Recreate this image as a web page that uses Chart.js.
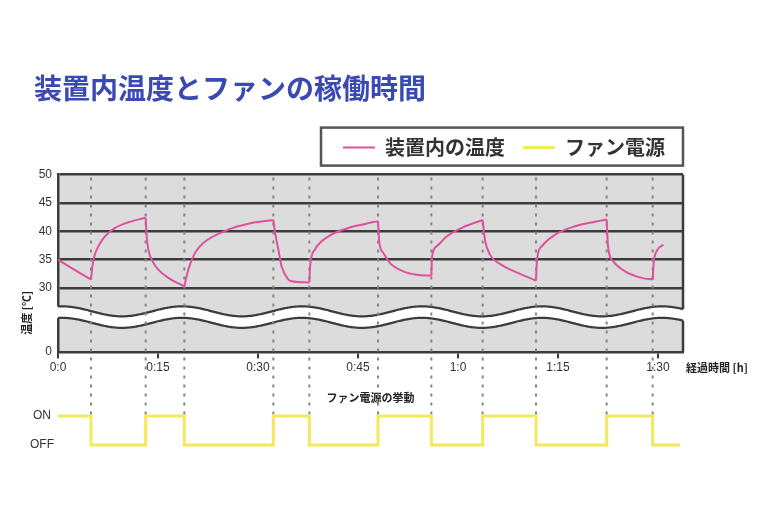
<!DOCTYPE html>
<html lang="ja">
<head>
<meta charset="utf-8">
<title>装置内温度とファンの稼働時間</title>
<script src="https://cdn.jsdelivr.net/npm/chart.js@4.4.1/dist/chart.umd.min.js"></script>
<style>
  html, body { margin: 0; padding: 0; background: #fff; }
</style>
</head>
<body>
<canvas id="ondoChart" width="768" height="524"></canvas>
<script>
// 経過時間 [分] と装置内の温度 [℃]
const tempMinutes = [0, 2.5, 4.95, 5.15, 5.45, 6.05, 7.05, 8.55, 10.55, 13.15,
  13.3, 13.55, 14.05, 15.05, 16.55, 18.95,
  19.55, 20.55, 21.8, 25.55, 28.55, 32.3,
  32.6, 33.05, 33.55, 34.55, 35.05, 37.7,
  37.85, 38.55, 40.55, 43.55, 46.05, 48,
  48.2, 48.8, 49.8, 51.8, 53.8, 56,
  56.1, 56.8, 58.3, 60.8, 63.7,
  64.05, 64.8, 66.55, 69.05, 71.7,
  71.85, 72.55, 74.55, 77.55, 80.55, 82.3,
  82.5, 83.3, 85.05, 87.55, 89.2,
  89.35, 89.8, 90.8];
const tempValues = [35.0, 33.2, 31.5, 33.8, 35.6, 37.35, 39.1, 40.6, 41.6, 42.4,
  39.1, 36.8, 35.0, 33.25, 31.8, 30.3,
  33.25, 36.2, 37.95, 40.3, 41.35, 42.0,
  39.5, 36.8, 33.8, 31.5, 31.2, 31.0,
  34.2, 36.8, 39.1, 40.6, 41.3, 41.8,
  38.0, 36.2, 34.4, 32.95, 32.35, 32.2,
  35.4, 37.35, 39.1, 40.75, 42.0,
  38.5, 35.9, 34.1, 32.65, 31.3,
  35.0, 37.35, 39.4, 40.9, 41.7, 42.1,
  37.4, 34.7, 32.95, 31.8, 31.5,
  34.4, 36.5, 37.65];

// ファン電源の切り替わり時刻 [分] と状態 (1 = ON, 0 = OFF)
const fanMinutes = [0, 4.95, 13.15, 18.95, 32.3, 37.7, 48, 56, 63.7, 71.7, 82.3, 89.2, 93.3];
const fanState = [1, 0, 1, 0, 1, 0, 1, 0, 1, 0, 1, 0, 0];

const xTickValues = [0, 15, 30, 45, 60, 75, 90];
const tempTickValues = [30, 35, 40, 45, 50];
const breakTickLabel = '0';
const fanTickLabels = ['OFF', 'ON'];

const PINK = '#e0509e';
const YELLOW = '#f4e95a';
const DARK = '#3c3c3c';
const FONT_JP = '"Noto Sans CJK JP", "Noto Sans", sans-serif';
const FONT_NUM = '"Liberation Sans", Arial, sans-serif';

// 縦軸の省略部分（30℃より下）を含めた表示範囲
const Y_MIN = 18.76;
const Y_MAX = 50;
const X_MAX = 93.75;
const FAN_MIN = -0.517;
const FAN_MAX = 3.207;

function jikan(v) {
  return Math.floor(v / 60) + ':' + (v % 60);
}

// 温度はファンの切り替わりごとに区切って描く（折れ目を鋭く残すため）
const tempDatasets = [];
for (let i = 0; i < fanMinutes.length - 1; i++) {
  const a = fanMinutes[i], b = fanMinutes[i + 1];
  const pts = [];
  tempMinutes.forEach((m, j) => {
    if (m >= a && m <= b) pts.push({ x: m, y: tempValues[j] });
  });
  if (pts.length > 1) {
    tempDatasets.push({
      label: '装置内の温度',
      data: pts,
      yAxisID: 'y',
      borderColor: PINK,
      backgroundColor: PINK,
      borderWidth: 2,
      pointRadius: 0,
      cubicInterpolationMode: 'monotone',
      fill: false
    });
  }
}

const fanDataset = {
  label: 'ファン電源',
  data: fanMinutes.map((m, i) => ({ x: m, y: fanState[i] })),
  yAxisID: 'y2',
  borderColor: YELLOW,
  backgroundColor: YELLOW,
  borderWidth: 3,
  pointRadius: 0,
  stepped: true,
  fill: false
};

// 背景、軸の省略（波線）、切り替わりの点線、凡例の枠など
const zusePlugin = {
  id: 'zuse',
  beforeDraw(chart) {
    const { ctx } = chart;
    const xs = chart.scales.x, ys = chart.scales.y;
    ctx.save();
    ctx.fillStyle = '#dcdcdc';
    ctx.fillRect(xs.left, ys.top, xs.right - xs.left, ys.bottom - ys.top);
    ctx.restore();
  },
  beforeDatasetsDraw(chart) {
    const { ctx } = chart;
    const xs = chart.scales.x, ys = chart.scales.y, y2 = chart.scales.y2;
    const L = xs.left, R = xs.right;
    ctx.save();
    // 右枠
    ctx.strokeStyle = DARK;
    ctx.lineWidth = 2.5;
    ctx.beginPath();
    ctx.moveTo(R, ys.top);
    ctx.lineTo(R, ys.bottom);
    ctx.stroke();

    // 波線
    const c1 = ys.bottom - 40.5, c2 = ys.bottom - 29, amp = 5;
    const wave = (x, c) => c - amp * Math.cos(2 * Math.PI * (x - 62) / 120);
    ctx.fillStyle = '#ffffff';
    ctx.beginPath();
    for (let x = L - 3; x <= R + 3; x += 1) ctx.lineTo(x, wave(x, c1));
    for (let x = R + 3; x >= L - 3; x -= 1) ctx.lineTo(x, wave(x, c2));
    ctx.closePath();
    ctx.fill();
    ctx.strokeStyle = DARK;
    ctx.lineWidth = 2.2;
    [c1, c2].forEach(c => {
      ctx.beginPath();
      for (let x = L; x <= R; x += 1) ctx.lineTo(x, wave(x, c));
      ctx.stroke();
    });

    // ファン切り替わりの点線
    ctx.strokeStyle = '#858585';
    ctx.lineWidth = 2;
    ctx.setLineDash([3, 6]);
    const yOn = y2.getPixelForValue(1);
    fanMinutes.slice(1, -1).forEach(m => {
      const px = xs.getPixelForValue(m);
      ctx.beginPath();
      ctx.moveTo(px, ys.top + 3);
      ctx.lineTo(px, yOn);
      ctx.stroke();
    });
    ctx.restore();
  },
  afterDraw(chart) {
    const { ctx } = chart;
    const xs = chart.scales.x, ys = chart.scales.y;
    const lg = chart.legend;
    ctx.save();
    // 凡例の枠
    if (lg && lg.legendHitBoxes && lg.legendHitBoxes.length) {
      const hb = lg.legendHitBoxes;
      const cy = hb[0].top + hb[0].height / 2;
      const left = hb[0].left - 22;
      const right = xs.right;
      ctx.strokeStyle = '#555';
      ctx.lineWidth = 2.5;
      ctx.strokeRect(left, cy - 20, right - left, 38);
    }
    // 軸の見出し
    ctx.fillStyle = '#222';
    ctx.font = 'bold 11px ' + FONT_JP;
    ctx.textAlign = 'left';
    ctx.textBaseline = 'middle';
    ctx.fillText('経過時間 [h]', xs.right + 3, ys.bottom + 16);
    ctx.translate(27, ys.bottom - 39);
    ctx.rotate(-Math.PI / 2);
    ctx.textAlign = 'center';
    ctx.fillText('温度 [℃]', 0, 0);
    ctx.restore();
  }
};

const tickFont = { family: FONT_NUM, size: 12 };

new Chart(document.getElementById('ondoChart'), {
  type: 'line',
  data: { datasets: tempDatasets.concat([fanDataset]) },
  options: {
    responsive: false,
    animation: false,
    layout: { padding: { top: 0, left: 34, right: 85, bottom: 64 } },
    plugins: {
      title: {
        display: true,
        text: '装置内温度とファンの稼働時間',
        align: 'start',
        color: '#3b4ab3',
        font: { family: FONT_JP, size: 28, weight: 'bold' },
        padding: { top: 72, bottom: 14 }
      },
      subtitle: {
        display: true,
        text: '',
        weight: 500,
        font: { size: 1, lineHeight: 1 },
        padding: { top: 0, bottom: 6 }
      },
      legend: {
        position: 'top',
        align: 'end',
        labels: {
          usePointStyle: true,
          pointStyle: 'line',
          pointStyleWidth: 32,
          padding: 18,
          color: '#333',
          font: { family: FONT_JP, size: 20, weight: 'bold' },
          filter: (item, data) => item.datasetIndex === 0 || item.datasetIndex === data.datasets.length - 1
        }
      },
      tooltip: { enabled: false }
    },
    scales: {
      x: {
        type: 'linear',
        axis: 'x',
        position: { y: Y_MIN },
        min: 0,
        max: X_MAX,
        afterBuildTicks: s => { s.ticks = xTickValues.map(v => ({ value: v })); },
        afterFit: s => { s.height = 53; },
        ticks: { callback: v => jikan(v), color: '#333', font: tickFont, padding: 4, maxRotation: 0, autoSkip: false },
        grid: { drawOnChartArea: false, tickLength: 5, color: DARK, lineWidth: 2 },
        border: { display: true, color: DARK, width: 2.5 },
        title: {
          display: true,
          text: 'ファン電源の挙動',
          color: '#222',
          font: { family: FONT_JP, size: 11, weight: 'bold' },
          padding: 0
        }
      },
      y: {
        type: 'linear',
        axis: 'y',
        position: 'left',
        stack: 'v',
        stackWeight: 177,
        weight: 1,
        min: Y_MIN,
        max: Y_MAX,
        afterBuildTicks: s => { s.ticks = [Y_MIN].concat(tempTickValues).map(v => ({ value: v })); },
        afterFit: s => { s.width = 24; },
        ticks: { callback: v => (v === Y_MIN ? breakTickLabel : v), color: '#333', font: tickFont, padding: 6 },
        grid: {
          color: c => (c.tick && c.tick.value === Y_MIN ? 'rgba(0,0,0,0)' : DARK),
          lineWidth: 2.5,
          drawTicks: false
        },
        border: { display: true, color: DARK, width: 2.5 }
      },
      y2: {
        type: 'linear',
        axis: 'y',
        position: 'left',
        stack: 'v',
        stackWeight: 108,
        weight: 0,
        min: FAN_MIN,
        max: FAN_MAX,
        afterBuildTicks: s => { s.ticks = [0, 1].map(v => ({ value: v })); },
        afterFit: s => { s.width = 24; },
        ticks: {
          callback: v => fanTickLabels[v],
          color: '#333',
          font: tickFont,
          mirror: true,
          crossAlign: 'center',
          padding: -28
        },
        grid: { display: false },
        border: { display: false }
      }
    }
  },
  plugins: [zusePlugin]
});
</script>
</body>
</html>
